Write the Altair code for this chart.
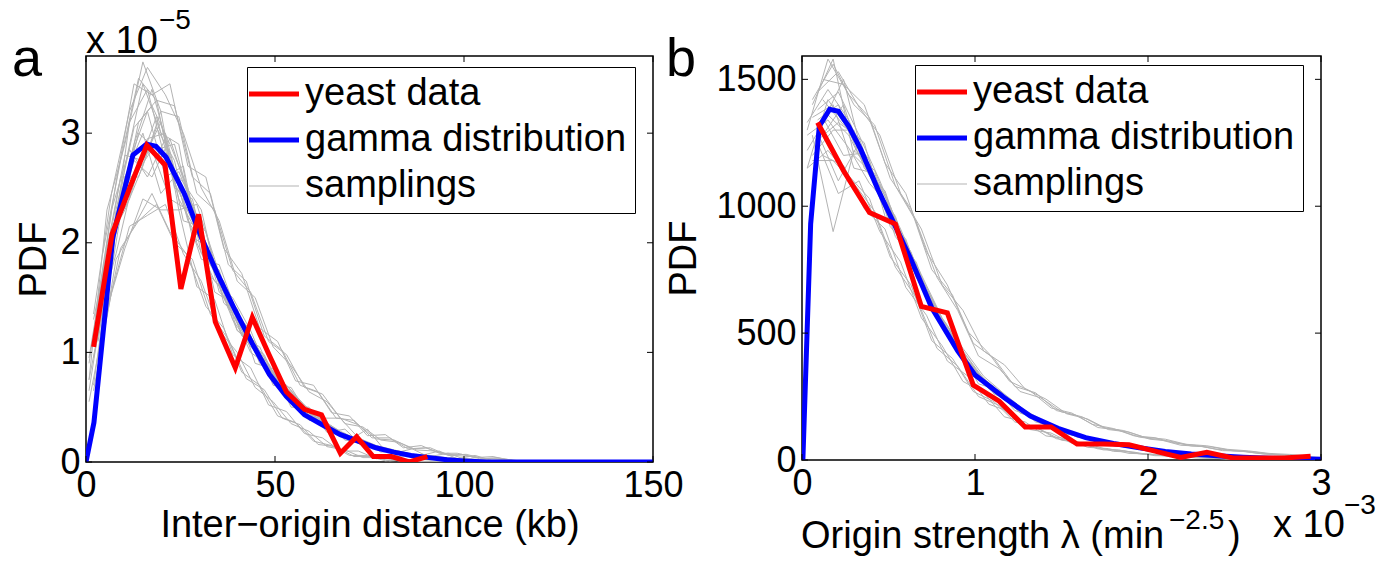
import altair as alt
import pandas as pd

# ---------------- Panel a data (y in units of 1e-5) ----------------
a_red_x = [2.0, 6.9, 11.9, 16.1, 20.9, 25.1, 29.8, 34.2, 39.5, 44.0, 48.4, 53.0, 57.8, 62.3, 67.3, 71.6, 76.0, 80.8, 85.5, 90.3]
a_red_y = [1.05, 2.08, 2.53, 2.89, 2.71, 1.58, 2.26, 1.28, 0.86, 1.32, 0.98, 0.64, 0.48, 0.43, 0.08, 0.23, 0.05, 0.05, 0.0, 0.05]

a_blue_x = [0, 2.1, 7.1, 12.4, 16.0, 18.5, 21.2, 26, 30.5, 35, 39.5, 44, 48.5, 53, 57.8, 62.5, 67.3, 72, 76.7, 81.4, 86, 90.8, 95.5, 100, 106, 150]
a_blue_y = [0, 0.36, 2.05, 2.8, 2.9, 2.88, 2.78, 2.45, 2.05, 1.7, 1.38, 1.08, 0.8, 0.6, 0.43, 0.34, 0.25, 0.19, 0.13, 0.09, 0.06, 0.04, 0.02, 0.01, 0.0, 0.0]

a_grid1 = [2.0, 6.75, 11.5, 16.25, 21.0, 25.75, 30.5, 35.25, 40.0, 44.75, 49.5, 54.25, 59.0, 63.75, 68.5, 73.25, 78.0, 82.75, 87.5, 92.25, 97.0, 101.75, 106.5, 111.25, 116.0]
a_grid2 = [4.4, 9.15, 13.9, 18.65, 23.4, 28.15, 32.9, 37.65, 42.4, 47.15, 51.9, 56.65, 61.4, 66.15, 70.9, 75.65, 80.4, 85.15, 89.9, 94.65, 99.4, 104.15, 108.9, 113.65, 118.4]
a_grid3 = [0.8, 5.55, 10.3, 15.05, 19.8, 24.55, 29.3, 34.05, 38.8, 43.55, 48.3, 53.05, 57.8, 62.55, 67.3, 72.05, 76.8, 81.55, 86.3, 91.05, 95.8, 100.55, 105.3, 110.05, 114.8]
a_grid4 = [3.2, 7.95, 12.7, 17.45, 22.2, 26.95, 31.7, 36.45, 41.2, 45.95, 50.7, 55.45, 60.2, 64.95, 69.7, 74.45, 79.2, 83.95, 88.7, 93.45, 98.2, 102.95, 107.7, 112.45, 117.2]

a_samp1 = [1.35, 2.45, 3.2, 3.6, 3.35, 3.0, 2.5, 2.2, 1.65, 1.5, 1.05, 0.88, 0.64, 0.55, 0.35, 0.32, 0.2, 0.18, 0.11, 0.1, 0.06, 0.05, 0.03, 0.02, 0.0]
a_samp2 = [0.65, 1.55, 2.15, 2.25, 2.35, 1.9, 1.65, 1.2, 1.0, 0.68, 0.55, 0.35, 0.28, 0.14, 0.11, 0.04, 0.04, 0.01, 0.0, 0.0, 0.0, 0.0, 0.0, 0.0, 0.0]
a_samp3 = [0.95, 1.75, 2.75, 3.2, 2.6, 2.7, 1.9, 1.75, 1.2, 1.1, 0.7, 0.68, 0.42, 0.35, 0.22, 0.2, 0.09, 0.1, 0.04, 0.05, 0.01, 0.03, 0.01, 0.0, 0.0]
a_samp4 = [1.1, 2.3, 2.85, 2.6, 2.95, 2.2, 2.15, 1.55, 1.4, 0.9, 0.85, 0.5, 0.5, 0.27, 0.3, 0.14, 0.14, 0.05, 0.07, 0.03, 0.04, 0.01, 0.0, 0.02, 0.0]
a_samp5 = [0.7, 1.9, 3.1, 3.4, 2.75, 2.55, 2.3, 1.6, 1.2, 1.05, 0.78, 0.62, 0.38, 0.36, 0.2, 0.18, 0.11, 0.09, 0.05, 0.05, 0.02, 0.02, 0.01, 0.0, 0.0]
a_samp6 = [1.3, 2.1, 2.4, 2.95, 3.0, 2.35, 1.85, 1.8, 1.35, 1.0, 0.82, 0.58, 0.47, 0.3, 0.26, 0.16, 0.12, 0.07, 0.06, 0.03, 0.03, 0.02, 0.0, 0.01, 0.0]
a_samp7 = [1.9, 2.75, 3.5, 3.3, 3.25, 2.6, 2.45, 1.8, 1.65, 1.15, 1.02, 0.7, 0.64, 0.4, 0.38, 0.22, 0.22, 0.12, 0.13, 0.07, 0.07, 0.03, 0.04, 0.01, 0.0]
a_samp8 = [1.15, 1.95, 2.2, 2.35, 2.0, 1.85, 1.35, 1.12, 0.76, 0.66, 0.4, 0.34, 0.16, 0.14, 0.05, 0.05, 0.01, 0.02, 0.0, 0.0, 0.0, 0.0, 0.0, 0.0, 0.0]
a_samp9 = [1.5, 2.3, 3.1, 3.3, 2.5, 2.4, 1.7, 1.5, 1.1, 0.98, 0.62, 0.56, 0.36, 0.3, 0.18, 0.16, 0.09, 0.08, 0.04, 0.04, 0.02, 0.02, 0.01, 0.0, 0.0]
a_samp10 = [1.65, 2.6, 2.6, 3.05, 2.75, 2.05, 1.95, 1.4, 1.25, 0.85, 0.75, 0.48, 0.42, 0.25, 0.22, 0.12, 0.11, 0.06, 0.06, 0.03, 0.03, 0.01, 0.01, 0.01, 0.0]
a_samp11 = [1.35, 2.35, 3.0, 2.85, 2.9, 2.3, 1.8, 1.5, 1.15, 0.9, 0.72, 0.55, 0.38, 0.28, 0.2, 0.15, 0.1, 0.07, 0.05, 0.04, 0.02, 0.02, 0.01, 0.0, 0.0]
a_samp12 = [1.6, 2.45, 2.7, 3.15, 2.55, 2.2, 1.9, 1.45, 1.2, 0.95, 0.68, 0.5, 0.4, 0.27, 0.19, 0.14, 0.1, 0.07, 0.05, 0.03, 0.03, 0.01, 0.0, 0.0, 0.0]
a_samp13 = [0.75, 2.3, 2.9, 3.65, 3.2, 3.15, 2.45, 2.3, 1.75, 1.55, 1.1, 0.98, 0.68, 0.62, 0.4, 0.34, 0.21, 0.2, 0.12, 0.13, 0.06, 0.07, 0.03, 0.03, 0.01]
a_samp14 = [0.55, 1.4, 1.95, 2.4, 2.3, 2.3, 1.6, 1.48, 0.98, 0.86, 0.52, 0.46, 0.26, 0.22, 0.1, 0.1, 0.03, 0.03, 0.0, 0.01, 0.0, 0.0, 0.0, 0.0, 0.0]
a_samp15 = [0.75, 1.6, 2.7, 3.45, 3.0, 2.9, 2.0, 1.65, 1.5, 1.2, 0.8, 0.7, 0.5, 0.4, 0.4, 0.22, 0.15, 0.11, 0.07, 0.06, 0.03, 0.03, 0.01, 0.01, 0.0]
a_samp16 = [0.9, 2.0, 2.3, 2.7, 3.2, 2.3, 2.35, 1.85, 1.3, 1.05, 0.9, 0.6, 0.45, 0.33, 0.24, 0.17, 0.12, 0.08, 0.12, 0.04, 0.03, 0.02, 0.01, 0.0, 0.0]
a_samp17 = [0.65, 1.7, 2.6, 3.0, 2.45, 2.65, 2.25, 1.55, 1.45, 1.15, 0.82, 0.7, 0.52, 0.38, 0.28, 0.2, 0.14, 0.1, 0.05, 0.05, 0.08, 0.02, 0.02, 0.01, 0.0]
a_samp18 = [0.95, 1.95, 2.8, 2.75, 3.1, 2.4, 2.1, 1.8, 1.35, 1.0, 0.88, 0.62, 0.46, 0.35, 0.25, 0.18, 0.13, 0.08, 0.06, 0.04, 0.03, 0.01, 0.01, 0.0, 0.0]
a_samp19 = [1.5, 2.55, 3.45, 3.35, 3.45, 2.7, 2.6, 1.95, 1.72, 1.22, 1.1, 0.74, 0.7, 0.45, 0.42, 0.24, 0.25, 0.13, 0.15, 0.08, 0.08, 0.04, 0.05, 0.01, 0.0]
a_samp20 = [0.85, 1.85, 2.15, 2.45, 2.1, 1.88, 1.42, 1.22, 0.82, 0.7, 0.42, 0.36, 0.19, 0.15, 0.06, 0.06, 0.01, 0.02, 0.0, 0.0, 0.0, 0.0, 0.0, 0.0, 0.0]
a_samp21 = [1.1, 2.3, 3.05, 3.25, 2.9, 2.5, 1.85, 1.65, 1.15, 1.05, 0.7, 0.6, 0.4, 0.33, 0.2, 0.3, 0.1, 0.09, 0.05, 0.05, 0.02, 0.02, 0.01, 0.0, 0.0]
a_samp22 = [1.3, 1.9, 2.6, 2.85, 2.4, 2.3, 2.1, 1.45, 1.3, 0.9, 0.8, 0.52, 0.45, 0.28, 0.24, 0.14, 0.12, 0.07, 0.06, 0.1, 0.03, 0.01, 0.01, 0.01, 0.0]
a_samp23 = [1.15, 2.25, 2.9, 3.4, 2.8, 2.2, 1.95, 1.6, 1.25, 1.0, 0.72, 0.58, 0.43, 0.31, 0.21, 0.17, 0.11, 0.08, 0.05, 0.04, 0.03, 0.06, 0.01, 0.0, 0.0]
a_samp24 = [1.25, 2.15, 2.75, 2.6, 2.95, 2.45, 2.0, 1.5, 1.2, 0.95, 0.78, 0.55, 0.41, 0.29, 0.23, 0.15, 0.1, 0.08, 0.06, 0.04, 0.02, 0.02, 0.01, 0.0, 0.0]

a_samplings = [
    (a_grid1, a_samp1), (a_grid1, a_samp2), (a_grid1, a_samp3), (a_grid1, a_samp4),
    (a_grid1, a_samp5), (a_grid1, a_samp6), (a_grid2, a_samp7), (a_grid2, a_samp8),
    (a_grid2, a_samp9), (a_grid2, a_samp10), (a_grid2, a_samp11), (a_grid2, a_samp12),
    (a_grid3, a_samp13), (a_grid3, a_samp14), (a_grid3, a_samp15), (a_grid3, a_samp16),
    (a_grid3, a_samp17), (a_grid3, a_samp18), (a_grid4, a_samp19), (a_grid4, a_samp20),
    (a_grid4, a_samp21), (a_grid4, a_samp22), (a_grid4, a_samp23), (a_grid4, a_samp24),
]

# ---------------- Panel b data (x in units of 1e-3) ----------------
b_red_x = [0.09, 0.24, 0.39, 0.54, 0.69, 0.84, 0.99, 1.14, 1.29, 1.44, 1.59, 1.74, 1.89, 2.04, 2.19, 2.34, 2.49, 2.64, 2.79, 2.94]
b_red_y = [1330, 1140, 975, 930, 605, 580, 295, 232, 130, 130, 63, 63, 60, 35, 10, 30, 8, 8, 8, 15]

b_blue_x = [0.005, 0.05, 0.1, 0.16, 0.21, 0.27, 0.34, 0.44, 0.53, 0.63, 0.75, 0.9, 1.0, 1.17, 1.32, 1.48, 1.64, 1.8, 1.95, 2.1, 2.25, 2.4, 2.55, 2.7, 2.85, 3.0]
b_blue_y = [0, 930, 1315, 1382, 1374, 1315, 1223, 1064, 935, 790, 600, 430, 335, 245, 173, 125, 88, 65, 48, 34, 24, 17, 11, 7, 5, 3]

b_grid1 = [0.06, 0.18, 0.30, 0.42, 0.54, 0.66, 0.78, 0.90, 1.02, 1.14, 1.26, 1.38, 1.50, 1.62, 1.74, 1.86, 1.98, 2.10, 2.22, 2.34, 2.46, 2.58, 2.70, 2.82, 2.94]
b_grid2 = [0.12, 0.24, 0.36, 0.48, 0.60, 0.72, 0.84, 0.96, 1.08, 1.20, 1.32, 1.44, 1.56, 1.68, 1.80, 1.92, 2.04, 2.16, 2.28, 2.40, 2.52, 2.64, 2.76, 2.88, 3.0]
b_grid3 = [0.03, 0.15, 0.27, 0.39, 0.51, 0.63, 0.75, 0.87, 0.99, 1.11, 1.23, 1.35, 1.47, 1.59, 1.71, 1.83, 1.95, 2.07, 2.19, 2.31, 2.43, 2.55, 2.67, 2.79, 2.91]
b_grid4 = [0.09, 0.21, 0.33, 0.45, 0.57, 0.69, 0.81, 0.93, 1.05, 1.17, 1.29, 1.41, 1.53, 1.65, 1.77, 1.89, 2.01, 2.13, 2.25, 2.37, 2.49, 2.61, 2.73, 2.85, 2.97]

b_samp1 = [1420, 1560, 1400, 1320, 1080, 940, 720, 590, 410, 360, 270, 245, 190, 170, 128, 116, 90, 82, 62, 56, 42, 36, 26, 22, 15]
b_samp2 = [1180, 1180, 1090, 980, 760, 640, 440, 370, 250, 215, 140, 120, 78, 68, 40, 37, 22, 20, 10, 9, 4, 4, 1, 1, 0]
b_samp3 = [1400, 1580, 1200, 1120, 880, 780, 560, 460, 320, 270, 185, 160, 105, 92, 68, 58, 42, 36, 24, 20, 14, 11, 7, 6, 3]
b_samp4 = [1200, 1300, 1300, 1080, 960, 720, 590, 420, 340, 250, 210, 145, 120, 88, 72, 52, 46, 32, 26, 19, 15, 9, 8, 5, 4]
b_samp5 = [1350, 1400, 1150, 1130, 910, 760, 580, 450, 300, 275, 195, 155, 112, 90, 70, 55, 44, 35, 25, 21, 13, 10, 6, 6, 3]
b_samp6 = [1280, 900, 1220, 1140, 940, 740, 585, 445, 330, 258, 202, 148, 117, 89, 67, 56, 44, 35, 25, 20, 15, 10, 8, 5, 4]
b_samp7 = [1500, 1480, 1400, 1170, 1050, 820, 690, 505, 420, 310, 272, 205, 185, 140, 124, 95, 88, 66, 57, 42, 36, 26, 21, 14, 10]
b_samp8 = [1200, 1160, 990, 910, 680, 570, 390, 330, 220, 190, 120, 106, 66, 58, 34, 31, 17, 16, 8, 7, 3, 3, 1, 0, 0]
b_samp9 = [1420, 1320, 1250, 960, 870, 640, 530, 360, 300, 235, 170, 140, 98, 84, 60, 50, 38, 31, 21, 17, 11, 9, 6, 5, 3]
b_samp10 = [1280, 1400, 1150, 1060, 820, 680, 490, 400, 280, 225, 182, 128, 105, 77, 64, 48, 41, 29, 23, 16, 12, 8, 7, 5, 3]
b_samp11 = [1350, 1200, 1210, 1000, 850, 660, 515, 375, 305, 228, 172, 135, 100, 81, 61, 51, 39, 30, 22, 17, 12, 9, 7, 5, 3]
b_samp12 = [1330, 1500, 1170, 1020, 830, 655, 500, 390, 290, 232, 178, 130, 103, 79, 63, 49, 40, 30, 22, 17, 12, 9, 7, 5, 3]
b_samp13 = [1300, 1580, 1440, 1350, 1110, 990, 750, 650, 460, 400, 290, 265, 195, 175, 128, 118, 90, 80, 58, 54, 37, 35, 23, 20, 12]
b_samp14 = [1150, 1220, 1120, 1030, 800, 690, 470, 400, 270, 230, 150, 130, 84, 72, 44, 40, 24, 21, 12, 10, 5, 5, 2, 1, 0]
b_samp15 = [1150, 1420, 1300, 1180, 920, 820, 590, 490, 340, 290, 195, 170, 115, 100, 70, 62, 44, 40, 24, 22, 14, 12, 6, 6, 3]
b_samp16 = [1280, 1340, 1230, 1090, 1000, 760, 640, 450, 370, 260, 225, 150, 130, 90, 80, 55, 50, 33, 30, 19, 17, 9, 9, 5, 4]
b_samp17 = [1330, 1460, 1340, 1150, 940, 800, 600, 480, 350, 285, 205, 168, 118, 98, 74, 60, 46, 39, 26, 22, 15, 12, 7, 6, 3]
b_samp18 = [1220, 1360, 1280, 1120, 990, 770, 620, 460, 360, 265, 215, 155, 126, 92, 75, 57, 48, 35, 28, 20, 16, 10, 8, 6, 4]
b_samp19 = [1450, 1530, 1390, 1280, 1050, 910, 690, 590, 430, 375, 280, 240, 182, 162, 120, 110, 82, 74, 55, 51, 36, 32, 21, 17, 10]
b_samp20 = [1250, 1050, 1100, 900, 780, 560, 450, 310, 265, 170, 150, 95, 84, 50, 45, 26, 24, 13, 12, 6, 5, 2, 1, 0, 0]
b_samp21 = [1380, 1450, 1280, 1100, 900, 730, 560, 440, 330, 260, 195, 150, 112, 90, 70, 56, 44, 35, 25, 20, 15, 11, 7, 5, 3]
b_samp22 = [1290, 1100, 1250, 1040, 870, 690, 530, 400, 305, 238, 182, 138, 104, 82, 64, 51, 40, 32, 23, 18, 13, 9, 7, 5, 3]
b_samp23 = [1340, 1400, 1200, 1080, 910, 720, 555, 430, 320, 250, 192, 146, 110, 87, 68, 54, 43, 34, 25, 19, 14, 10, 7, 5, 3]
b_samp24 = [1260, 1330, 1270, 1030, 860, 680, 525, 405, 310, 240, 185, 140, 106, 83, 65, 52, 41, 32, 24, 18, 13, 10, 7, 5, 3]

b_samplings = [
    (b_grid1, b_samp1), (b_grid1, b_samp2), (b_grid1, b_samp3), (b_grid1, b_samp4),
    (b_grid1, b_samp5), (b_grid1, b_samp6), (b_grid2, b_samp7), (b_grid2, b_samp8),
    (b_grid2, b_samp9), (b_grid2, b_samp10), (b_grid2, b_samp11), (b_grid2, b_samp12),
    (b_grid3, b_samp13), (b_grid3, b_samp14), (b_grid3, b_samp15), (b_grid3, b_samp16),
    (b_grid3, b_samp17), (b_grid3, b_samp18), (b_grid4, b_samp19), (b_grid4, b_samp20),
    (b_grid4, b_samp21), (b_grid4, b_samp22), (b_grid4, b_samp23), (b_grid4, b_samp24),
]

series_names = ["yeast data", "gamma distribution", "samplings"]
series_colors = ["#ff0000", "#0000ff", "#b3b3b3"]

a_xticks = [0, 50, 100, 150]
a_yticks = [0, 1, 2, 3]
b_xticks = [0, 1, 2, 3]
b_yticks = [0, 500, 1000, 1500]

FONT = "Liberation Sans"


def panel(red_x, red_y, blue_x, blue_y, samplings, xdom, ydom, xticks, yticks,
          W, H, xtitle, ytitle_pad, legend_x, legend_y, texts):
    red = pd.DataFrame({"x": red_x, "y": red_y, "series": series_names[0]})
    blue = pd.DataFrame({"x": blue_x, "y": blue_y, "series": series_names[1]})
    rows = []
    for i, (gx, gy) in enumerate(samplings):
        for xv, yv in zip(gx, gy):
            rows.append({"x": xv, "y": yv, "series": series_names[2], "run": i})
    gray = pd.DataFrame(rows)

    xs = alt.Scale(domain=xdom, nice=False, zero=False)
    ys = alt.Scale(domain=ydom, nice=False, zero=False)
    cs = alt.Scale(domain=series_names, range=series_colors)
    leg = alt.Legend(title=None, orient="none", legendX=legend_x, legendY=legend_y,
                     direction="vertical", symbolType="stroke", symbolSize=2500,
                     symbolStrokeWidth=alt.ExprRef("datum.value === 'samplings' ? 1 : 5"),
                     labelFontSize=38, labelFont=FONT, labelColor="black",
                     labelOffset=12, padding=8, rowPadding=8,
                     strokeColor="black", fillColor="white", labelLimit=500)
    xax = alt.Axis(values=xticks, title=xtitle, labelFontSize=36, labelFont=FONT,
                   labelColor="black", ticks=False, domain=False, grid=False,
                   labelPadding=6, labelFlush=False, format="d",
                   titleFontSize=38, titleFont=FONT, titleFontWeight="normal",
                   titleColor="black", titlePadding=3)
    yax = alt.Axis(values=yticks, title="PDF", labelFontSize=36, labelFont=FONT,
                   labelColor="black", ticks=False, domain=False, grid=False,
                   labelPadding=6, format="d", labelFlush=False,
                   titleFontSize=38, titleFont=FONT, titleFontWeight="normal",
                   titleColor="black", titlePadding=ytitle_pad)

    g = alt.Chart(gray).mark_line(strokeWidth=1, clip=True).encode(
        x=alt.X("x:Q", scale=xs, axis=xax),
        y=alt.Y("y:Q", scale=ys, axis=yax),
        color=alt.Color("series:N", scale=cs, legend=leg),
        detail="run:N",
    )
    b = alt.Chart(blue).mark_line(strokeWidth=5, clip=True).encode(
        x=alt.X("x:Q", scale=xs), y=alt.Y("y:Q", scale=ys),
        color=alt.Color("series:N", scale=cs, legend=leg),
    )
    r = alt.Chart(red).mark_line(strokeWidth=5, clip=True).encode(
        x=alt.X("x:Q", scale=xs), y=alt.Y("y:Q", scale=ys),
        color=alt.Color("series:N", scale=cs, legend=leg),
    )
    xt = pd.DataFrame({"v": xticks})
    yt = pd.DataFrame({"v": yticks})
    tl = 6
    ticks = [
        alt.Chart(xt).mark_rule(color="black", strokeWidth=1).encode(
            x=alt.X("v:Q", scale=xs), y=alt.value(H), y2=alt.value(H - tl)),
        alt.Chart(xt).mark_rule(color="black", strokeWidth=1).encode(
            x=alt.X("v:Q", scale=xs), y=alt.value(0), y2=alt.value(tl)),
        alt.Chart(yt).mark_rule(color="black", strokeWidth=1).encode(
            y=alt.Y("v:Q", scale=ys), x=alt.value(0), x2=alt.value(tl)),
        alt.Chart(yt).mark_rule(color="black", strokeWidth=1).encode(
            y=alt.Y("v:Q", scale=ys), x=alt.value(W), x2=alt.value(W - tl)),
    ]
    tlayers = []
    for (t, px, py, fs) in texts:
        tlayers.append(
            alt.Chart(pd.DataFrame({"t": [t]})).mark_text(
                align="left", baseline="alphabetic", fontSize=fs, font=FONT, color="black"
            ).encode(text="t:N", x=alt.value(px), y=alt.value(py))
        )
    return alt.layer(g, b, r, *ticks, *tlayers).properties(width=W, height=H)


WA, HA = 567, 406
WB, HB = 519, 404

pa = panel(a_red_x, a_red_y, a_blue_x, a_blue_y, a_samplings,
           [0, 150], [0, 3.704], a_xticks, a_yticks, WA, HA,
           "Inter\u2212origin distance (kb)", 6, 161, 11,
           [("a", -74, 20, 54), ("x 10", 0, -3, 38), ("\u22125", 73, -27, 28)])

pb = panel(b_red_x, b_red_y, b_blue_x, b_blue_y, b_samplings,
           [0, 3], [0, 1592], b_xticks, b_yticks, WB, HB,
           None, 12, 113, 9,
           [("b", -136, 20, 54), ("Origin strength \u03bb (min", -1, 492, 38),
            ("\u22122.5", 367, 473, 28), (")", 426, 492, 38),
            ("x 10", 471, 481, 38), ("\u22123", 542, 458, 28)])

chart = alt.hconcat(pa, pb, spacing=149, bounds="flush").resolve_scale(
    color="independent"
).resolve_legend(color="independent").properties(
    padding={"left": 11, "top": 6, "right": 5, "bottom": 5}
).configure(font=FONT).configure_view(stroke="black", strokeWidth=1.5)

chart.save("out.html", embed_options={"renderer": "svg", "actions": False})
